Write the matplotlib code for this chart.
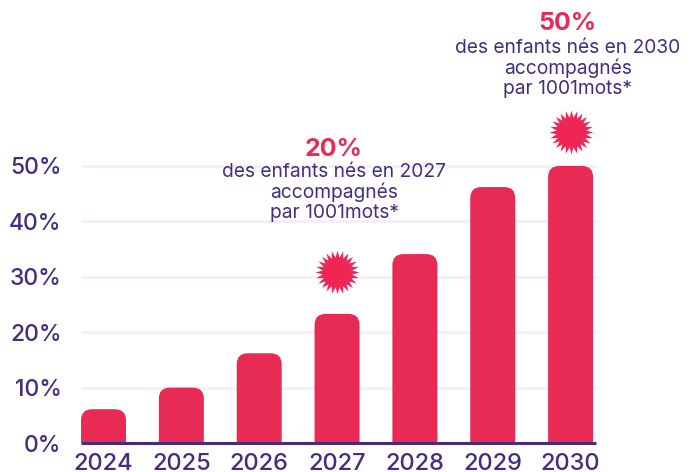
import matplotlib
matplotlib.use("Agg")
import matplotlib.pyplot as plt
from matplotlib.patches import PathPatch
from matplotlib.path import Path

years = ["2024", "2025", "2026", "2027", "2028", "2029", "2030"]
values = [6.1, 10, 16.2, 23.3, 34.1, 46.2, 50]
yticks = [0, 10, 20, 30, 40, 50]
ylabels = ["0%", "10%", "20%", "30%", "40%", "50%"]
notes = [
    (3, "20%", "des enfants nés en 2027\naccompagnés\npar 1001mots*"),
    (6, "50%", "des enfants nés en 2030\naccompagnés\npar 1001mots*"),
]

RED = "#e72b55"
STAR = "#ef2555"
PURPLE = "#452c7f"
GRID = "#f4eff8"

plt.rcParams["font.family"] = ["Inter", "DejaVu Sans"]

W, H = 697, 472
fig = plt.figure(figsize=(W / 100, H / 100), dpi=100)
ax = fig.add_axes([81 / W, (H - 443) / H, (596 - 81) / W, (443 - 166) / H])

step = 77.85
ax.set_xlim((81 - 103.5) / step, (596 - 103.5) / step)
ax.set_ylim(0, 50)

px_y = 50 / (443 - 166)
bar_w = 45 / step
rx, ry = 11 / step, 11 * px_y


def top_rounded(x, h):
    l, r = x - bar_w / 2, x + bar_w / 2
    verts = [(l, 0), (l, h - ry), (l, h), (l + rx, h), (r - rx, h), (r, h), (r, h - ry), (r, 0), (l, 0)]
    codes = [Path.MOVETO, Path.LINETO, Path.CURVE3, Path.CURVE3, Path.LINETO, Path.CURVE3, Path.CURVE3, Path.LINETO, Path.CLOSEPOLY]
    return Path(verts, codes)


for i, v in enumerate(values):
    ax.add_patch(PathPatch(top_rounded(i, v), facecolor=RED, edgecolor="none", zorder=3, clip_on=False))

# grid and baseline
for t in yticks[1:]:
    ax.axhline(t, color=GRID, lw=2, zorder=1, clip_on=False, solid_capstyle="butt")
ax.axhline(0, color=PURPLE, lw=2.2, zorder=4, clip_on=False, solid_capstyle="butt")

for s in ax.spines.values():
    s.set_visible(False)
ax.set_xticks(range(len(years)))
ax.set_xticklabels(years, fontsize=17, fontweight="medium", color=PURPLE)
ax.set_yticks(yticks)
ax.set_yticklabels(ylabels, fontsize=16.5, fontweight="medium", color=PURPLE)
ax.tick_params(axis="both", length=0)
ax.tick_params(axis="x", pad=7.5)
ax.tick_params(axis="y", pad=14)

burst = Path.unit_regular_star(24, 0.68)
# small text / headline offsets above the bar, in pixels
text_off = {3: 92, 6: 68}
head_off = {3: 153, 6: 131}
burst_off = {3: 42, 6: 34}
for x, big, small in notes:
    top = values[x]
    ax.scatter([x], [top + burst_off[x] * px_y], marker=burst, s=1000, color=STAR, linewidths=0, zorder=5, clip_on=False)
    ax.annotate(small, (x, top), xytext=(-3, text_off[x]), textcoords="offset pixels",
                ha="center", va="bottom", fontsize=13.8, color=PURPLE, linespacing=1.13,
                annotation_clip=False, zorder=6)
    ax.annotate(big, (x, top), xytext=(-3, head_off[x]), textcoords="offset pixels",
                ha="center", va="bottom", fontsize=18, fontweight="bold", color=RED,
                annotation_clip=False, zorder=6)

fig.savefig("out.png", dpi=100)
